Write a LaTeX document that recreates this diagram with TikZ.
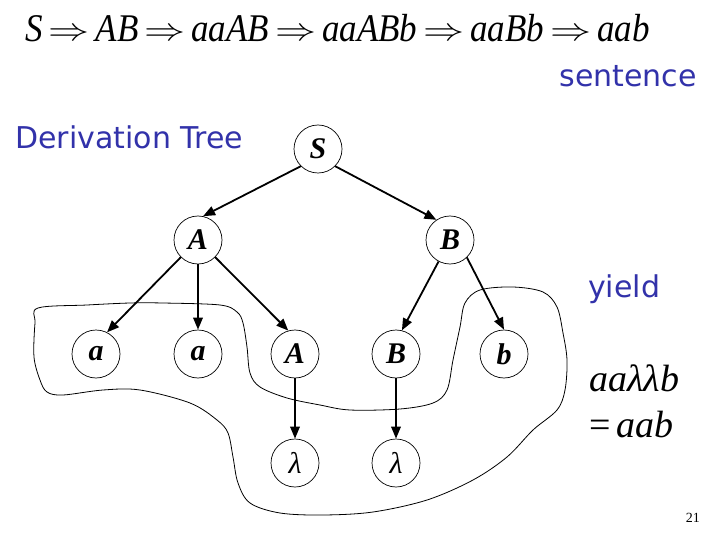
\documentclass[tikz,border=0pt]{standalone}
\usepackage{fontspec}
\setmainfont{Liberation Serif}
\newfontfamily\comic{DejaVu Sans}
\usetikzlibrary{arrows.meta}
\definecolor{txtblue}{RGB}{50,50,170}
\tikzset{
  nd/.style={draw, circle, minimum size=48pt, inner sep=0pt, line width=0.7pt,
    font=\fontsize{30}{30}\selectfont\bfseries\itshape},
  lam/.style={nd, font=\fontsize{30}{30}\selectfont\itshape},
  edge/.style={line width=1.8pt, -{Triangle[length=12pt,width=9.5pt]}},
  bluetxt/.style={text=txtblue, font=\comic\fontsize{30}{36}\selectfont, inner sep=0pt},
  mathtxt/.style={font=\fontsize{38}{40}\selectfont, inner sep=0pt},
  toptxt/.style={font=\fontsize{35}{40}\selectfont, inner sep=0pt}
}
\newcommand{\imp}{\hspace{6pt}\raisebox{1.5pt}{\scalebox{4.1}[3.2]{\fontsize{10}{12}\selectfont$\Rightarrow$}}\hspace{6pt}}
\newcommand{\tall}[1]{\textit{\scalebox{1}[1.12]{#1}}}
\begin{document}
\begin{tikzpicture}[x=1pt,y=-1pt]
\useasboundingbox[fill=white] (0,0) rectangle (720,540);
% text
\node[toptxt, anchor=base west] (deriv) at (25,42)
  {\tall{S}\imp\tall{AB}\imp\tall{aaAB}\imp\tall{aaABb}\imp\tall{aaBb}\imp\tall{aab}};
\node[bluetxt, anchor=base east] (sent) at (697,87) {sentence};
\node[bluetxt, anchor=base west] (dtree) at (15,149) {Derivation Tree};
\node[bluetxt, anchor=base west] (yld) at (588,297) {yield};
\node[mathtxt, anchor=base west] (y1) at (589,391) {\textit{aaλλb}};
\node[mathtxt, anchor=base west] (y2) at (589,437) {=\,\textit{aab}};
\node[font=\fontsize{14}{14}\selectfont, inner sep=0pt, anchor=base east] (pg) at (700,522) {21};
% blob
\draw[line width=0.8pt] plot[smooth cycle, tension=0.55] coordinates {
 (38,308) (87,305) (130,303) (163,303) (220,305) (237,312) (243,323) (247,347)
 (250,373) (260,387) (287,398) (320,405) (350,410) (400,409) (433,403) (447,390)
 (453,360) (460,327) (465,303) (480,290) (513,287) (543,292) (557,307) (563,333)
 (567,360) (565,390) (557,410) (533,430) (507,457) (473,480) (427,500) (373,512)
 (323,515) (280,513) (250,503) (238,483) (233,457) (228,433) (217,420) (190,403)
 (140,390) (103,390) (63,395) (47,392) (40,380) (34,357) (35,323)};
% nodes
\node[nd] (S) at (318,149) {S};
\node[nd] (A) at (198,240) {A};
\node[nd] (B) at (450,240) {B};
\node[nd] (a1) at (96,354) {a};
\node[nd] (a2) at (198,354) {a};
\node[nd] (A2) at (295,354) {A};
\node[nd] (B2) at (396,354) {B};
\node[nd] (b) at (504,354) {b};
\node[lam] (l1) at (295,463) {λ};
\node[lam] (l2) at (396,463) {λ};
% edges
\draw[edge] (S.-135) -- (A.78);
\draw[edge] (S.-45) -- (B.124);
\draw[edge] (A.-135) -- (a1.63);
\draw[edge] (A.south) -- (a2.north);
\draw[edge] (A.-45) -- (A2.106);
\draw[edge] (B.-118) -- (B2.76);
\draw[edge] (B.-46) -- (b.north);
\draw[edge] (A2.south) -- (l1.north);
\draw[edge] (B2.south) -- (l2.north);
\end{tikzpicture}
\end{document}
